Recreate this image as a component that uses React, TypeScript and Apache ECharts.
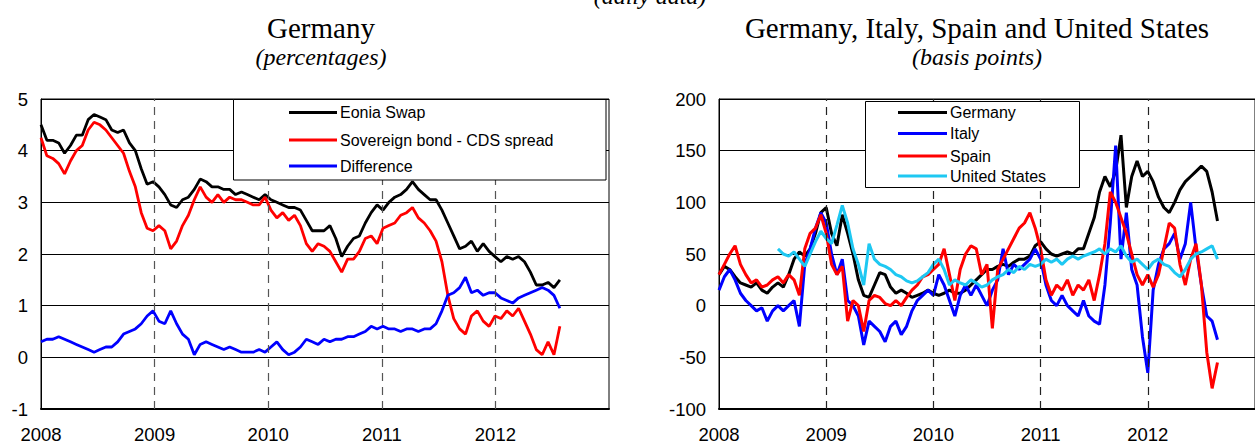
import React, { useEffect, useRef } from "react";
import * as echarts from "echarts";

// ---------- Left panel: Germany (percentages) ----------
const LEFT_START = 2008;
const LEFT_STEP = 15 / 289; // years between readings
const leftNames = ["Eonia Swap", "Sovereign bond - CDS spread", "Difference"];
const leftColors = ["#000000", "#ff0000", "#0000ff"];
const eoniaSwap = [
  4.5, 4.2, 4.2, 4.15, 3.95, 4.1, 4.3, 4.3, 4.6, 4.7,
  4.65, 4.6, 4.4, 4.35, 4.4, 4.15, 4.0, 3.65, 3.35, 3.4,
  3.3, 3.15, 2.95, 2.9, 3.05, 3.1, 3.25, 3.45, 3.4, 3.3,
  3.3, 3.25, 3.25, 3.15, 3.2, 3.15, 3.1, 3.05, 3.15, 3.05,
  3.0, 2.95, 2.9, 2.9, 2.85, 2.65, 2.45, 2.45, 2.45, 2.55,
  2.3, 1.95, 2.15, 2.3, 2.35, 2.6, 2.8, 2.95, 2.85, 3.0,
  3.1, 3.15, 3.25, 3.4, 3.25, 3.15, 3.05, 3.05, 2.85, 2.6,
  2.35, 2.1, 2.15, 2.25, 2.05, 2.2, 2.05, 1.95, 1.85, 1.95,
  1.9, 1.95, 1.85, 1.65, 1.4, 1.4, 1.45, 1.35, 1.5,
];
const sovCdsSpread = [
  4.25, 3.9, 3.85, 3.75, 3.55, 3.8, 4.0, 4.1, 4.4, 4.55,
  4.5, 4.4, 4.25, 4.1, 3.95, 3.6, 3.3, 2.8, 2.5, 2.45,
  2.55, 2.45, 2.1, 2.25, 2.55, 2.75, 3.05, 3.3, 3.1, 3.0,
  3.15, 3.0, 3.1, 3.05, 3.05, 3.0, 2.95, 2.95, 3.1, 2.85,
  2.7, 2.8, 2.65, 2.75, 2.55, 2.2, 2.05, 2.2, 2.15, 2.05,
  1.85, 1.65, 1.9, 1.9, 2.05, 2.3, 2.35, 2.2, 2.5, 2.55,
  2.6, 2.75, 2.8, 2.9, 2.7, 2.6, 2.45, 2.25, 1.85, 1.2,
  0.75, 0.55, 0.45, 0.8, 0.9, 0.7, 0.6, 0.8, 0.75, 0.9,
  0.8, 0.95, 0.7, 0.45, 0.15, 0.05, 0.3, 0.05, 0.6,
];
const difference = [
  0.3, 0.35, 0.35, 0.4, 0.35, 0.3, 0.25, 0.2, 0.15, 0.1,
  0.15, 0.2, 0.2, 0.3, 0.45, 0.5, 0.55, 0.65, 0.8, 0.9,
  0.7, 0.65, 0.9, 0.65, 0.45, 0.35, 0.05, 0.25, 0.3, 0.25,
  0.2, 0.15, 0.2, 0.15, 0.1, 0.1, 0.1, 0.15, 0.1, 0.2,
  0.3, 0.15, 0.05, 0.1, 0.2, 0.35, 0.3, 0.25, 0.35, 0.3,
  0.35, 0.35, 0.4, 0.4, 0.45, 0.5, 0.6, 0.55, 0.6, 0.55,
  0.55, 0.5, 0.55, 0.55, 0.5, 0.55, 0.55, 0.65, 0.9, 1.2,
  1.25, 1.35, 1.55, 1.25, 1.3, 1.2, 1.25, 1.25, 1.15, 1.1,
  1.05, 1.15, 1.2, 1.25, 1.3, 1.35, 1.3, 1.2, 0.95,
];

// ---------- Right panel: Germany, Italy, Spain, US (basis points) ----------
const RIGHT_START = 2008;
const RIGHT_STEP = 0.05;
const US_START = 2008.55;
const rightNames = ["Germany", "Italy", "Spain", "United States"];
const rightColors = ["#000000", "#0000ff", "#ff0000", "#1ec8f2"];
const germany = [
  30, 38, 35, 28, 22, 20, 18, 22, 15, 12, 18, 22, 18, 30, 45, 52, 48, 55, 70, 90,
  95, 70, 58, 88, 70, 50, 25, 10, 8, 20, 32, 30, 18, 12, 15, 12, 8, 10, 12, 15,
  12, 10, 12, 15, 12, 12, 15, 20, 25, 30, 35, 35, 38, 40, 38, 42, 45, 45, 48, 58,
  62, 55, 50, 48, 50, 52, 50, 55, 55, 70, 85, 110, 125, 115, 130, 165, 95, 125, 140, 125,
  130, 120, 105, 95, 90, 100, 112, 120, 125, 130, 135, 130, 110, 82,
];
const italy = [
  15, 28, 35, 25, 12, 5, 0, -5, -2, -15, -5, 0, -5, 0, 5, -20, 40, 55, 75, 90,
  80, 50, 30, 45, 5, 0, -10, -38, -15, -20, -25, -35, -20, -15, -28, -20, -5, 5, 10, 15,
  10, 30, 20, 5, -10, 10, 20, 10, 20, 10, 0, 15, 25, 55, 30, 40, 35, 40, 45, 55,
  45, 20, 5, 0, 10, 0, -5, -10, 5, -10, -15, -18, 20, 80, 155, 45, 90, 35, 20, -30,
  -65, 15, 40, 55, 60, 70, 45, 60, 100, 55, 20, -10, -15, -33,
];
const spain = [
  30, 40, 50, 58, 40, 30, 22, 25, 18, 20, 25, 28, 22, 30, 25, 10, 55, 70, 75, 88,
  70, 40, 30, 38, -15, 5, 0, -25, 5, 10, 8, 2, 0, 5, 0, 8, 15, 20, 28, 30,
  35, 40, 55, 30, 5, 35, 50, 58, 55, 30, 40, -22, 35, 45, 55, 65, 75, 80, 90, 75,
  55, 25, 10, 20, 15, 25, 10, 20, 15, 25, 5, 30, 60, 110, 100, 85, 70, 50, 30, 20,
  30, 18, 30, 55, 80, 75, 40, 20, 45, 60, 20, -45, -80, -55,
];
const unitedStates = [
  55, 50, 48, 52, 45, 38, 50, 62, 72,
  65, 60, 78, 97, 80, 55, 40, 20, 60, 45, 40, 38, 35, 30, 28, 24, 22, 24, 28, 32,
  40, 45, 35, 20, 25, 22, 20, 25, 22, 18, 20, 25, 28, 30, 35, 32, 38, 35, 40, 38,
  40, 45, 42, 45, 40, 45, 48, 45, 48, 50, 52, 55, 50, 55, 52, 58, 48, 42, 45, 40,
  35, 42, 45, 40, 38, 32, 28, 35, 45, 50, 52, 55, 58, 45,
];

const yearMarks = [2009, 2010, 2011, 2012];

const SANS = "'Liberation Sans', Arial, sans-serif";
const SERIF = "'Liberation Serif', 'Times New Roman', serif";

const toPairs = (start: number, step: number, vals: number[]) =>
  vals.map((v, i) => [start + i * step, v]);

function buildOption() {
  const xAxisBase = (gridIndex: number) => ({
    type: "value",
    gridIndex,
    min: 2008,
    max: 2013,
    interval: 1,
    axisLine: { show: true, onZero: false, lineStyle: { color: "#000", width: 2 } },
    axisTick: { show: false },
    splitLine: { show: false },
    axisLabel: {
      showMaxLabel: false,
      margin: 16,
      fontSize: 18.5,
      color: "#000",
      fontFamily: SANS,
      formatter: (v: number) => String(Math.round(v)),
    },
  });
  const yAxisBase = (gridIndex: number, min: number, max: number, interval: number) => ({
    type: "value",
    gridIndex,
    min,
    max,
    interval,
    axisLine: { show: true, lineStyle: { color: "#000", width: 1 } },
    axisTick: { show: false },
    splitLine: { show: true, lineStyle: { color: "#000", width: 1 } },
    axisLabel: { margin: 13, fontSize: 18.5, color: "#000", fontFamily: SANS },
  });
  const markYears = (color: string) => ({
    silent: true,
    symbol: ["none", "none"],
    label: { show: false },
    lineStyle: { color, width: 1.2, type: [8, 6] },
    data: yearMarks.map((y) => ({ xAxis: y })),
  });

  const leftData = [eoniaSwap, sovCdsSpread, difference];
  const rightData = [
    toPairs(RIGHT_START, RIGHT_STEP, germany),
    toPairs(RIGHT_START, RIGHT_STEP, italy),
    toPairs(RIGHT_START, RIGHT_STEP, spain),
    toPairs(US_START, RIGHT_STEP, unitedStates),
  ];

  const series: any[] = [];
  leftData.forEach((vals, i) => {
    series.push({
      name: leftNames[i],
      type: "line",
      xAxisIndex: 0,
      yAxisIndex: 0,
      showSymbol: false,
      symbol: "none",
      data: toPairs(LEFT_START, LEFT_STEP, vals),
      lineStyle: { color: leftColors[i], width: 2.8 },
      itemStyle: { color: leftColors[i] },
      markLine: i === 0 ? markYears("#555") : undefined,
    });
  });
  rightData.forEach((pairs, i) => {
    series.push({
      name: rightNames[i],
      type: "line",
      xAxisIndex: 1,
      yAxisIndex: 1,
      showSymbol: false,
      symbol: "none",
      data: pairs,
      lineStyle: { color: rightColors[i], width: 3 },
      itemStyle: { color: rightColors[i] },
      markLine: i === 0 ? markYears("#222") : undefined,
    });
  });

  const text = (t: string, x: number, y: number, font: string, align = "center") => ({
    type: "text",
    z: 100,
    style: {
      text: t,
      x,
      y,
      font,
      fill: "#000",
      align,
      textAlign: align,
      verticalAlign: "middle",
      textVerticalAlign: "middle",
    },
  });

  const legendBlock = (
    box: { x: number; y: number; w: number; h: number },
    lineX1: number,
    lineX2: number,
    textX: number,
    rows: number[],
    names: string[],
    colors: string[]
  ) => {
    const els: any[] = [
      {
        type: "rect",
        z: 100,
        shape: { x: box.x, y: box.y, width: box.w, height: box.h },
        style: { fill: "#fff", stroke: "#000", lineWidth: 1 },
      },
    ];
    names.forEach((n, i) => {
      els.push({
        type: "line",
        z: 101,
        shape: { x1: lineX1, y1: rows[i], x2: lineX2, y2: rows[i] },
        style: { stroke: colors[i], lineWidth: 3 },
      });
      els.push(text(n, textX, rows[i], `16px ${SANS}`, "left"));
    });
    return els;
  };

  const graphic = [
    text("(daily data)", 650, -4, `italic 24px ${SERIF}`),
    text("Germany", 321, 28, `29px ${SERIF}`),
    text("(percentages)", 321, 57, `italic 24px ${SERIF}`),
    text("Germany, Italy, Spain and United States", 977, 28, `29px ${SERIF}`),
    text("(basis points)", 977, 57, `italic 24px ${SERIF}`),
    ...legendBlock(
      { x: 233.5, y: 99.5, w: 372.5, h: 80.5 },
      289,
      337,
      340,
      [112.5, 140, 166],
      leftNames,
      leftColors
    ),
    ...legendBlock(
      { x: 865.5, y: 101.5, w: 214, h: 86 },
      898,
      947,
      950,
      [112.5, 133.5, 156, 176],
      rightNames,
      rightColors
    ),
  ];

  return {
    animation: false,
    backgroundColor: "#fff",
    grid: [
      { left: 41, top: 99, width: 568, height: 310, show: true, borderColor: "#000", borderWidth: 1 },
      { left: 719, top: 99, width: 547, height: 310, show: true, borderColor: "#000", borderWidth: 1 },
    ],
    xAxis: [xAxisBase(0), xAxisBase(1)],
    yAxis: [yAxisBase(0, -1, 5, 1), yAxisBase(1, -100, 200, 50)],
    series,
    graphic,
  };
}

export default function App() {
  const ref = useRef<HTMLDivElement>(null);
  useEffect(() => {
    if (!ref.current) return;
    const chart = echarts.init(ref.current, undefined, { renderer: "svg" });
    chart.setOption(buildOption() as any);
    return () => chart.dispose();
  }, []);
  return (
    <div
      ref={ref}
      style={{ position: "absolute", left: 0, top: 0, width: 1255, height: 446, overflow: "hidden" }}
    />
  );
}
